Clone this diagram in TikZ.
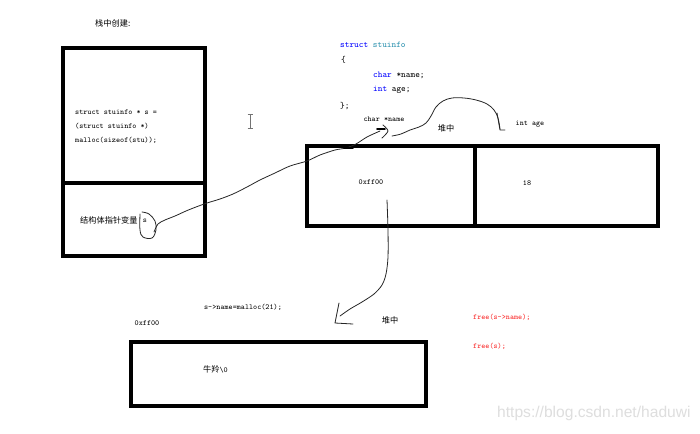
\documentclass[tikz,border=0pt]{standalone}
\usepackage{fontspec}
\setmainfont{Liberation Serif}
\newfontfamily\cjk{Noto Sans CJK SC}
\newfontfamily\wmfont{Liberation Sans}
\definecolor{kwblue}{RGB}{0,0,255}
\definecolor{kwteal}{RGB}{43,145,175}
\definecolor{freered}{RGB}{250,40,40}
\tikzset{
  membox/.style={draw=black, line width=3.5pt},
  small/.style={inner sep=0pt, font=\ttfamily\fontsize{7.7}{14}\selectfont},
  topcode/.style={inner sep=0pt, anchor=west, font=\ttfamily\fontsize{8.9}{10}\selectfont},
  zh/.style={inner sep=0pt, font=\cjk\fontsize{8.2}{10}\selectfont},
  hand/.style={draw=black!85, line width=0.8pt, line cap=round, line join=round},
  handthick/.style={draw=black, line width=1.6pt, line cap=round},
}
\begin{document}
\begin{tikzpicture}[x=1pt,y=-1pt]
\useasboundingbox (0,0) rectangle (700,433);
\fill[white] (0,0) rectangle (700,433);

% stack frame
\draw[membox] (63,48) rectangle (205,256);
\draw[membox] (63,183) -- (205,183);
\node[zh, anchor=west] (title) at (95,23) {栈中创建:};
\node[small, anchor=west, align=left] (decl) at (75,127) {struct stuinfo * s =\\(struct stuinfo *)\\malloc(sizeof(stu));};
\node[zh, anchor=west] (ptrlabel) at (80,220) {结构体指针变量};
\node[small, anchor=center] (svar) at (145,221) {s};

% text cursor
\draw[black!55, line width=0.7pt] (250,114) -- (250,128) (247.5,114) -- (252.5,114) (247.5,128) -- (252.5,128);

% struct definition
\node[topcode] (sdef) at (340,45) {\textcolor{kwblue}{struct} \textcolor{kwteal}{stuinfo}};
\node[topcode] (sopen) at (341,60) {\{};
\node[topcode] (sname) at (373,75) {\textcolor{kwblue}{char} *name;};
\node[topcode] (sage) at (373,90) {\textcolor{kwblue}{int} age;};
\node[topcode] (sclose) at (340,106) {\};};

% heap struct
\draw[membox] (307,146) rectangle (658,226);
\draw[membox] (475,146) -- (475,226);
\node[small] (charname) at (384,119) {char *name};
\node[zh] (heap1) at (446,128) {堆中};
\node[small] (intage) at (530,124) {int age};
\node[small] (addr1) at (371,182) {0xff00};
\node[small] (age) at (527,183) {18};

% lower heap block
\node[small] (mallocline) at (243,307) {s->name=malloc(21);};
\node[small] (addr2) at (147,323) {0xff00};
\node[zh] (heap2) at (390,320) {堆中};
\node[small, anchor=west, text=freered] (free1) at (473,317) {free(s->name);};
\node[small, anchor=west, text=freered] (free2) at (473,346) {free(s);};
\draw[membox] (131,342) rectangle (426,406);
\node[anchor=west, inner sep=0pt] (str) at (203,369) {{\cjk\fontsize{8.2}{10}\selectfont 牛羚}{\ttfamily\fontsize{7.7}{10}\selectfont\textbackslash 0}};

% watermark
\node[anchor=west, inner sep=0pt, text=black!13, font=\wmfont\fontsize{15.6}{16}\selectfont] (wm) at (497,413) {https://blog.csdn.net/haduwi};

% hand-drawn pointer from s to struct
\coordinate (sloop) at (154,232);
\coordinate (nameend) at (380,131);
\draw[hand] plot[smooth, tension=0.6] coordinates {(140,214) (140,230) (143,237) (152,238) (156,230) (155,221) (149,214) (142,212)};
\draw[hand] plot[smooth, tension=0.5] coordinates {(sloop) (158,224) (165,220) (175,216) (186,211) (196,207) (207,203) (220,199) (233,194) (247,187) (260,180) (275,173) (290,166) (307,161) (320,155) (335,150) (346,148) (356,144) (367,137) (nameend)};
\draw[handthick] (344,148) -- (353,148);
\draw[handthick] (377,129) -- (385,129);
\draw[hand] plot[smooth] coordinates {(383,125) (388,131) (382,138)};

% hand-drawn arrow to int age
\coordinate (agestart) at (392,136);
\coordinate (ageend) at (500,129);
\draw[hand] plot[smooth, tension=0.6] coordinates {(agestart) (401,134) (410,130) (419,127) (426,123) (431,116) (436,107) (443,101) (452,98) (464,98) (476,100) (487,104) (494,110) (498,118) (ageend)};
\draw[hand] (497,113) -- (500,130) -- (505,130);

% hand-drawn arrow from 0xff00 to lower block
\coordinate (ptrstart) at (387,200);
\coordinate (ptrend) at (340,316);
\draw[hand] plot[smooth, tension=0.5] coordinates {(ptrstart) (388,230) (388,257) (386,274) (382,285) (374,294) (362,302) (350,309) (ptrend)};
\draw[hand] (339,303) -- (335,323) -- (353,324);
\end{tikzpicture}
\end{document}
